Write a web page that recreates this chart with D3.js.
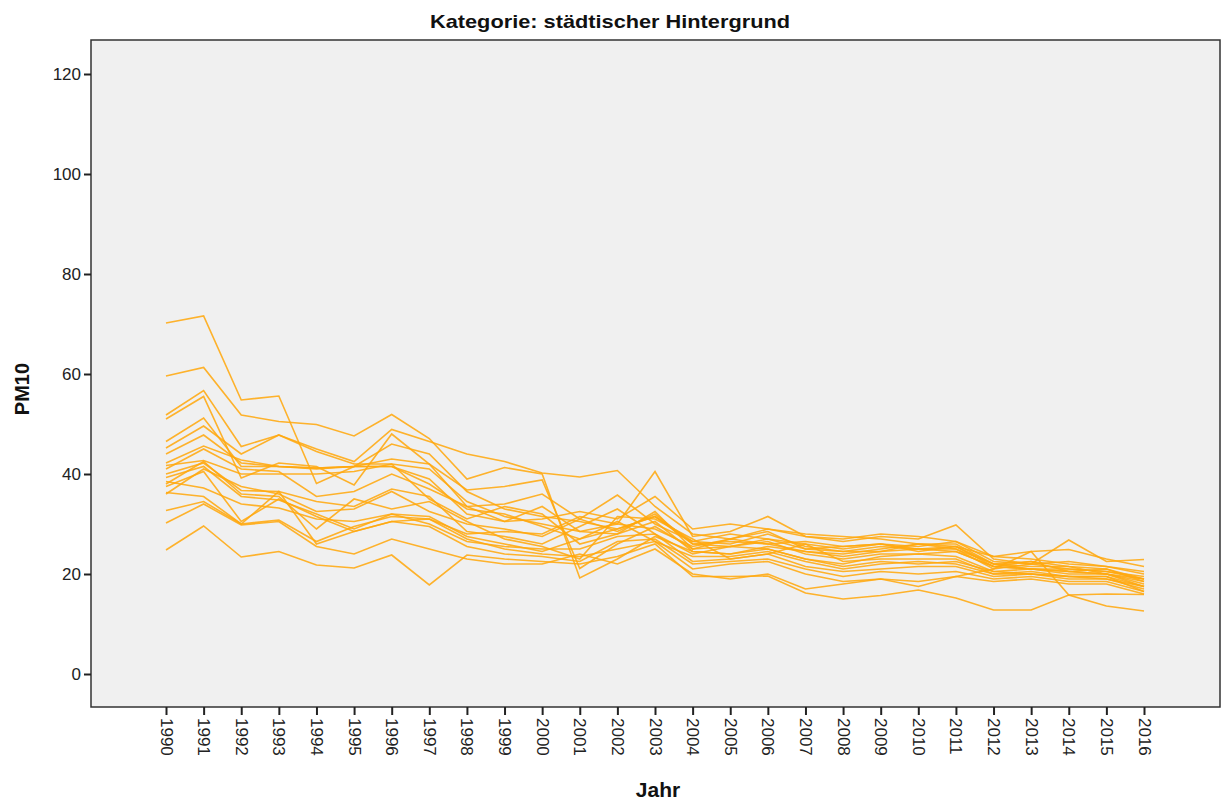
<!DOCTYPE html>
<html>
<head>
<meta charset="utf-8">
<script src="https://cdn.jsdelivr.net/npm/d3@7"></script>
<style>
  html, body { margin: 0; padding: 0; background: #ffffff; }
  svg { display: block; font-family: "Liberation Sans", Arial, sans-serif; }
</style>
</head>
<body>
<svg id="chart" width="1222" height="803"></svg>
<script>
// PM10 annual means (µg/m³), urban background stations, 1990–2016
const years = d3.range(1990, 2017);
const yTicks = [0, 20, 40, 60, 80, 100, 120];
const chartTitle = "Kategorie: städtischer Hintergrund";
const xLabel = "Jahr";
const yLabel = "PM10";

const s01 = [70.2,71.6,54.8,55.6,38.1,41.5,46.0,44.0,36.5,33.0,31.5,30.5,29.0,31.5,26.5,26.0,28.0,25.5,24.5,25.5,25.0,25.5,22.0,21.0,20.5,20.0,19.0];
const s02 = [59.6,61.3,51.8,50.5,49.9,47.6,51.9,47.1,39.0,41.3,40.0,19.2,23.0,27.5,24.5,24.0,25.0,23.0,21.5,22.5,22.0,22.5,20.5,20.0,19.5,19.0,17.5];
const s03 = [51.8,56.7,45.5,47.8,45.0,42.5,48.9,46.5,44.0,42.5,40.2,39.4,40.7,33.5,28.0,27.0,29.0,27.5,27.0,28.0,27.5,26.5,23.5,23.0,22.0,21.5,20.5];
const s04 = [51.0,55.5,39.2,42.2,41.5,37.8,48.0,42.0,33.5,34.0,36.0,31.0,35.8,30.0,26.5,28.0,27.0,26.0,25.0,26.0,25.5,26.5,22.5,22.0,21.0,20.5,19.5];
const s05 = [46.5,51.2,41.5,41.5,41.2,41.5,43.0,42.0,36.8,37.5,38.8,21.1,26.0,29.5,25.0,25.5,26.5,24.0,23.0,24.0,24.0,24.5,21.5,21.0,20.5,20.0,18.5];
const s06 = [45.2,49.6,44.0,47.8,44.5,42.0,42.0,41.0,34.5,31.5,30.0,28.5,30.0,40.5,27.5,28.5,31.5,27.5,26.5,27.5,27.0,29.8,23.0,22.0,26.8,22.5,22.9];
const s07 = [44.0,47.8,42.2,41.5,41.2,41.5,41.5,39.0,32.0,30.5,31.0,32.5,31.0,35.5,29.0,30.0,29.0,28.0,27.5,27.0,26.0,25.5,23.5,24.5,24.9,23.0,21.5];
const s08 = [42.2,45.6,42.8,41.5,41.0,41.5,41.5,38.0,33.0,32.0,29.5,27.0,29.0,31.5,26.0,25.5,27.0,25.0,25.5,26.0,25.0,25.0,21.0,22.0,22.5,21.5,20.0];
const s09 = [41.7,42.7,40.0,40.0,40.0,40.5,42.0,35.0,31.0,33.5,32.0,26.0,28.0,30.5,24.5,24.0,25.5,24.5,23.5,24.5,25.0,24.5,21.5,21.0,21.0,20.5,19.0];
const s10 = [40.0,42.2,36.7,36.5,34.5,33.5,37.0,35.5,28.5,27.5,26.0,29.5,33.0,28.0,24.0,25.5,25.0,23.0,22.0,23.5,24.0,23.5,20.5,21.0,20.0,20.0,18.0];
const s11 = [39.3,41.5,35.5,34.8,32.0,29.0,32.0,31.5,27.5,26.0,24.5,27.0,30.5,26.5,23.5,23.5,24.5,22.5,21.0,22.0,22.5,22.0,20.0,20.5,19.5,19.5,17.5];
const s12 = [38.5,37.2,34.0,33.2,31.0,30.5,32.0,30.0,26.5,25.5,25.0,25.0,27.5,28.0,22.5,23.0,24.0,21.5,20.5,21.0,21.5,21.5,19.5,20.0,19.0,19.0,17.0];
const s13 = [36.3,35.5,30.0,36.5,26.0,28.5,30.5,29.5,25.5,24.0,23.5,22.5,26.5,27.0,22.0,22.5,23.0,21.0,19.5,20.5,20.0,20.5,19.0,19.5,18.5,18.5,16.5];
const s14 = [32.7,34.5,30.0,30.8,26.5,29.5,31.5,31.0,27.0,25.0,24.0,23.5,25.0,26.5,21.0,22.0,22.5,20.0,18.5,19.0,18.5,19.5,18.5,19.0,18.0,18.0,16.0];
const s15 = [24.8,29.6,23.4,24.5,21.8,21.2,23.8,17.8,23.8,23.0,22.5,22.0,23.5,26.0,19.5,19.5,19.6,16.2,15.0,15.7,16.8,15.2,12.8,12.8,15.8,16.0,15.9];
const s16 = [30.2,34.0,29.8,30.5,25.5,24.0,27.0,25.0,23.0,22.0,22.0,24.0,22.0,25.0,20.0,19.0,20.0,17.0,18.0,19.0,17.5,19.5,21.0,24.5,15.8,13.6,12.6];
const s17 = [36.0,41.0,37.5,36.0,32.5,33.0,36.5,32.5,30.0,29.0,27.5,31.0,28.5,32.0,26.0,26.5,26.0,24.5,24.0,25.0,26.0,26.0,22.0,22.5,21.5,21.0,19.0];
const s18 = [37.5,40.5,30.5,35.0,31.5,28.5,30.5,31.0,28.0,28.5,28.0,31.5,30.0,29.0,25.5,27.0,26.0,26.5,25.5,26.0,24.5,25.5,21.5,22.5,20.5,21.0,18.5];
const s19 = [41.0,45.0,41.0,40.5,35.5,36.5,40.0,37.0,33.5,30.5,33.5,28.5,28.0,32.5,25.0,27.0,28.5,25.0,24.5,24.5,26.0,25.0,22.0,21.5,21.5,20.0,17.5];
const s20 = [38.0,42.5,36.0,35.5,29.0,35.0,33.0,34.5,30.5,27.0,25.5,23.0,31.5,31.0,27.0,23.0,24.0,26.0,22.5,23.0,23.0,23.0,20.0,20.0,19.5,19.5,16.5];

const series = [s01, s02, s03, s04, s05, s06, s07, s08, s09, s10,
                s11, s12, s13, s14, s15, s16, s17, s18, s19, s20];

const svg = d3.select("#chart");

// plot frame
const frame = { left: 91, top: 40, right: 1220, bottom: 707 };

const x = d3.scalePoint()
  .domain(years)
  .range([166, 1144]);

const y = d3.scaleLinear()
  .domain([0, 120])
  .range([674, 74]);

// background panel
svg.append("rect")
  .attr("x", frame.left)
  .attr("y", frame.top)
  .attr("width", frame.right - frame.left)
  .attr("height", frame.bottom - frame.top)
  .attr("fill", "#f0f0f0");

// station lines
const line = d3.line()
  .x((d, i) => x(years[i]))
  .y(d => y(d));

svg.append("g")
  .selectAll("path")
  .data(series)
  .join("path")
  .attr("d", line)
  .attr("fill", "none")
  .attr("stroke", "#ffa90f")
  .attr("stroke-opacity", 0.88)
  .attr("stroke-width", 1.6)
  .attr("stroke-linejoin", "miter");

// frame border
svg.append("rect")
  .attr("x", frame.left)
  .attr("y", frame.top)
  .attr("width", frame.right - frame.left)
  .attr("height", frame.bottom - frame.top)
  .attr("fill", "none")
  .attr("stroke", "#333333")
  .attr("stroke-width", 1.5);

// y axis
const yAxis = d3.axisLeft(y)
  .tickValues(yTicks)
  .tickSize(7)
  .tickPadding(3)
  .tickFormat(d3.format("d"));

const gy = svg.append("g")
  .attr("transform", `translate(${frame.left},0)`)
  .call(yAxis);
gy.select(".domain").remove();
gy.selectAll(".tick line").attr("stroke", "#222").attr("stroke-width", 2);
gy.selectAll(".tick text")
  .attr("font-size", 17)
  .attr("fill", "#222")
  .attr("font-family", "'Liberation Sans', Arial, sans-serif");

// x axis
const xAxis = d3.axisBottom(x)
  .tickSize(8)
  .tickFormat(d3.format("d"));

const gx = svg.append("g")
  .attr("transform", `translate(0,${frame.bottom})`)
  .call(xAxis);
gx.select(".domain").remove();
gx.selectAll(".tick line").attr("stroke", "#222").attr("stroke-width", 2);
gx.selectAll(".tick text")
  .attr("font-size", 17)
  .attr("fill", "#222")
  .attr("font-family", "'Liberation Sans', Arial, sans-serif")
  .attr("text-anchor", "start")
  .attr("transform", "rotate(90)")
  .attr("x", 11)
  .attr("y", 0)
  .attr("dy", "0.35em");

// title
svg.append("text")
  .attr("x", 610)
  .attr("y", 28)
  .attr("text-anchor", "middle")
  .attr("font-size", 19)
  .attr("font-weight", "bold")
  .attr("fill", "#111")
  .attr("textLength", 360)
  .attr("lengthAdjust", "spacingAndGlyphs")
  .text(chartTitle);

// axis titles
svg.append("text")
  .attr("transform", "translate(29,389) rotate(-90)")
  .attr("text-anchor", "middle")
  .attr("font-size", 20)
  .attr("font-weight", "bold")
  .attr("fill", "#111")
  .text(yLabel);

svg.append("text")
  .attr("x", 658)
  .attr("y", 797)
  .attr("text-anchor", "middle")
  .attr("font-size", 21)
  .attr("font-weight", "bold")
  .attr("fill", "#111")
  .text(xLabel);
</script>
</body>
</html>
